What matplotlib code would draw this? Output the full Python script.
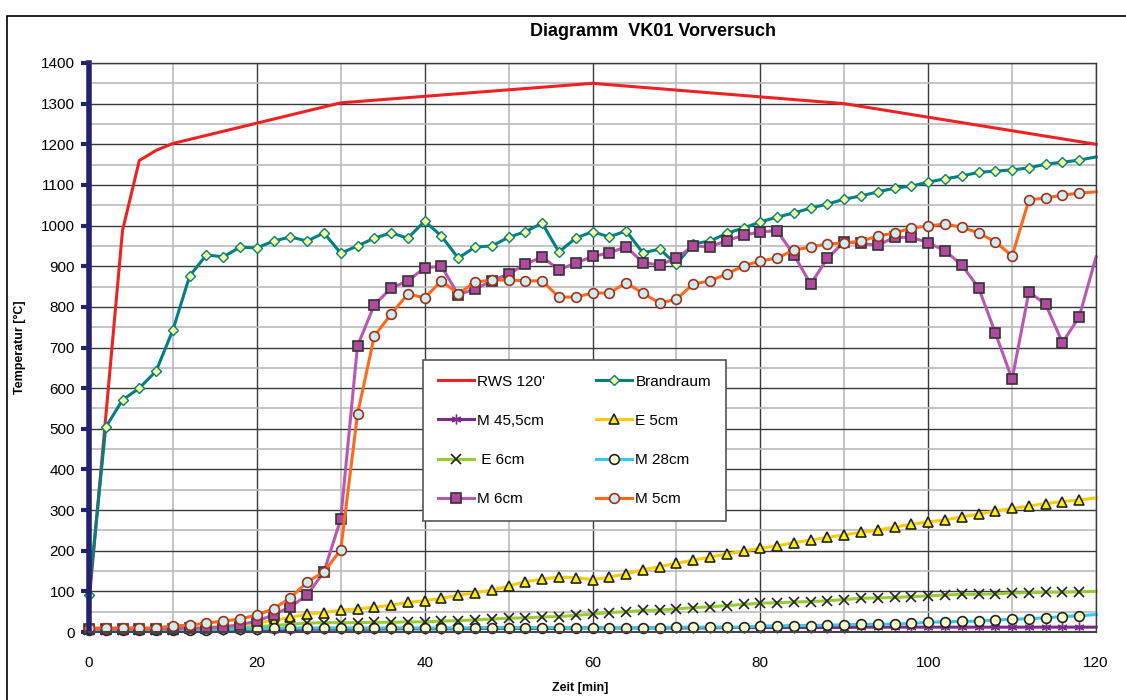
import numpy as np
import matplotlib.pyplot as plt
from matplotlib.patches import Rectangle

plt.rcParams['font.family'] = ['Liberation Sans', 'DejaVu Sans']

# Zeitachse [min], Messung alle 2 min
zeit = np.arange(0, 122, 2)

# Einheitstemperaturkurve RWS
rws_t = [0, 4, 6, 8, 10, 30, 60, 90, 120]
rws_v = [70, 988, 1160, 1185, 1202, 1302, 1350, 1300, 1200]

brandraum = [91, 504, 571, 600, 642, 743, 876, 928, 923, 947,
             945, 962, 972, 962, 982, 932, 950, 969, 982, 969,
             1011, 974, 920, 947, 950, 971, 985, 1006, 935, 969,
             985, 972, 987, 933, 942, 905, 955, 962, 981, 994,
             1009, 1021, 1031, 1043, 1053, 1065, 1073, 1083, 1092, 1097,
             1107, 1115, 1122, 1131, 1134, 1137, 1142, 1151, 1156, 1161,
             1169]

m455 = [5, 5, 5, 5, 5, 5, 5, 6, 6, 6, 6, 6, 6, 7, 7, 7,
        7, 7, 8, 8, 8, 8, 8, 9, 9, 9, 9, 9, 9, 10, 10,
        10, 10, 10, 10, 10, 10, 10, 11, 11, 11, 11, 11, 11, 11, 11,
        12, 12, 12, 12, 12, 12, 12, 12, 12, 12, 12, 12, 12, 12, 12]

e5 = [8, 8, 8, 8, 8, 9, 10, 12, 14, 18,
      22, 28, 36, 44, 48, 54, 57, 61, 66, 73,
      77, 83, 90, 97, 103, 113, 124, 130, 135, 134,
      129, 135, 143, 153, 161, 169, 177, 184, 192, 199,
      206, 212, 220, 226, 233, 239, 245, 251, 258, 265,
      271, 276, 283, 290, 298, 304, 310, 316, 321, 325,
      330]

e6 = [5, 5, 5, 5, 6, 6, 7, 8, 9, 11,
      13, 16, 19, 22, 23, 23, 23, 24, 24, 25,
      25, 27, 28, 30, 32, 34, 35, 37, 38, 41,
      44, 48, 50, 53, 54, 57, 60, 62, 65, 68,
      71, 72, 74, 75, 77, 80, 83, 84, 85, 87,
      89, 91, 93, 93, 94, 96, 97, 98, 98, 99,
      100]

m28 = [5, 5, 5, 5, 5, 5, 6, 6, 7, 7,
       8, 9, 10, 10, 10, 10, 10, 10, 10, 10,
       10, 10, 10, 11, 11, 11, 11, 11, 11, 11,
       11, 11, 11, 11, 11, 12, 12, 12, 12, 12,
       15, 15, 16, 16, 17, 18, 19, 19, 20, 21,
       24, 25, 26, 27, 30, 31, 33, 35, 38, 40,
       43]

m6 = [8, 8, 8, 8, 8, 8, 9, 10, 12, 18,
      27, 42, 62, 91, 148, 278, 704, 805, 846, 864,
      896, 900, 830, 844, 864, 881, 905, 923, 891, 908,
      924, 933, 948, 909, 903, 920, 950, 948, 963, 976,
      985, 987, 928, 856, 920, 960, 956, 952, 971, 971,
      958, 938, 903, 847, 736, 622, 837, 806, 712, 776,
      923]

m5 = [10, 10, 10, 10, 10, 15, 17, 22, 27, 32,
      42, 57, 84, 123, 148, 202, 536, 728, 782, 832,
      822, 864, 832, 861, 866, 866, 864, 864, 824, 824,
      834, 834, 859, 834, 809, 819, 856, 864, 881, 901,
      913, 920, 940, 947, 955, 957, 962, 974, 982, 994,
      999, 1004, 996, 982, 960, 925, 1063, 1068, 1075, 1080,
      1083]

fig = plt.figure(figsize=(11.26, 7), dpi=100)
ax = fig.add_axes([0.079, 0.0971, 0.8944, 0.8129])

# Rahmen um das Diagramm
fig.patches.append(Rectangle((7 / 1126, -0.1), 1.2, 1.1 - 16 / 700,
                             transform=fig.transFigure, fill=False,
                             edgecolor='black', lw=1.2))

me = slice(0, 60)
lw = 2.2
h_rws, = ax.plot(rws_t, rws_v, color='#EE2222', lw=lw, label="RWS 120'", clip_on=False)
h_br, = ax.plot(zeit, brandraum, color='#008080', lw=lw, marker='D', ms=5,
                mfc='#FFFF99', mec='#008080', mew=1, markevery=me, label='Brandraum', clip_on=False)
h_m455, = ax.plot(zeit, m455, color='#7B2C8B', lw=lw, marker=(6, 2, 0), ms=7,
                  mec='#7B2C8B', mew=1, markevery=me, label='M 45,5cm', clip_on=False)
h_e5, = ax.plot(zeit, e5, color='#FFCC00', lw=lw, marker='^', ms=7,
                mfc='#FFF200', mec='#222222', mew=1.2, markevery=me, label='E 5cm', clip_on=False)
h_e6, = ax.plot(zeit, e6, color='#99CC33', lw=lw, marker='x', ms=7,
                mec='#222222', mew=1.2, markevery=me, label=' E 6cm', clip_on=False)
h_m28, = ax.plot(zeit, m28, color='#33CCEE', lw=lw, marker='o', ms=7,
                 mfc='#FFFFCC', mec='#222222', mew=1.2, markevery=me, label='M 28cm', clip_on=False)
h_m6, = ax.plot(zeit, m6, color='#B858B0', lw=lw, marker='s', ms=7,
                mfc='#B04A9E', mec='#333333', mew=1.2, markevery=me, label='M 6cm', clip_on=False)
h_m5, = ax.plot(zeit, m5, color='#FF6A1A', lw=lw, marker='o', ms=7,
                mfc='#CCEEF2', mec='#A0301A', mew=1.2, markevery=me, label='M 5cm', clip_on=False)

ax.set_xlim(0, 120)
ax.set_ylim(0, 1400)
ax.set_xticks(range(0, 121, 20))
ax.set_xticks(range(10, 121, 20), minor=True)
ax.set_yticks(range(0, 1401, 100))
ax.set_yticks(range(50, 1400, 100), minor=True)
ax.set_axisbelow(True)
ax.grid(which='major', color='#3A3A3A', lw=1)
ax.grid(which='minor', color='#BBBBBB', lw=1.2)
ax.tick_params(which='minor', length=0)
ax.tick_params(axis='x', length=0, pad=17, labelsize=11)
ax.tick_params(axis='y', length=6, width=3, color='#22226E', pad=4, labelsize=11)

ax.spines['left'].set_color('#22226E')
ax.spines['left'].set_linewidth(4)
ax.spines['bottom'].set_color('#444444')
ax.spines['bottom'].set_linewidth(1.5)
for s in ['top', 'right']:
    ax.spines[s].set_color('#3A3A3A')
    ax.spines[s].set_linewidth(1)

handles = [h_rws, h_m455, h_e6, h_m6, h_br, h_e5, h_m28, h_m5]
leg = ax.legend(handles=handles, loc='upper left', bbox_to_anchor=(0.3317, 0.478),
                ncol=2, fontsize=11, frameon=True, fancybox=False, framealpha=1,
                edgecolor='#555555', handlelength=2.4, handletextpad=0.2,
                labelspacing=1.65, columnspacing=3.3, borderpad=0.95, borderaxespad=0)
leg.get_frame().set_linewidth(1.2)

fig.text(0.58, 1 - 32 / 700, 'Diagramm  VK01 Vorversuch', ha='center', va='center',
         fontsize=13, weight='bold')
fig.text(20 / 1126, 1 - 347 / 700, 'Temperatur [°C]', rotation=90, ha='center',
         va='center', fontsize=9, weight='bold')
fig.text(580 / 1126, 1 - 688 / 700, 'Zeit [min]', ha='center', va='center',
         fontsize=9, weight='bold')

fig.savefig('out.png', dpi=100)
